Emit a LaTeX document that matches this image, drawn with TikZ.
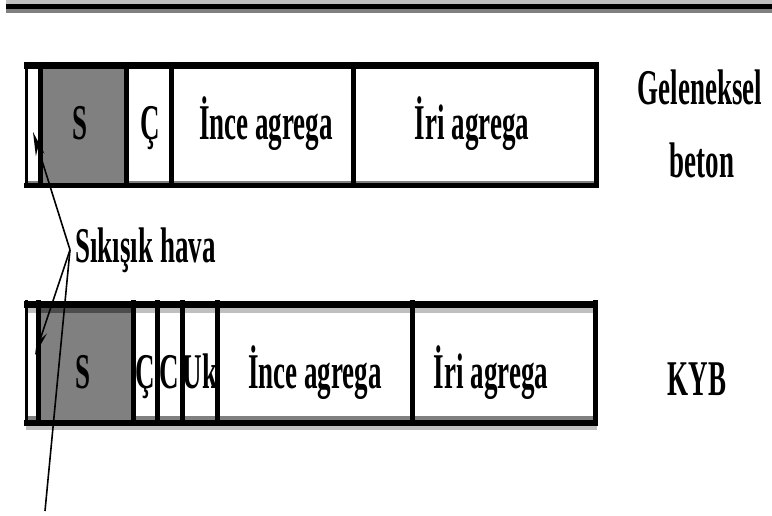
\documentclass[tikz,border=0pt]{standalone}
\usepackage{fontspec}
\newfontfamily\tf[FakeStretch=0.54]{Liberation Serif Bold}
\usetikzlibrary{arrows.meta}
\begin{document}
\begin{tikzpicture}[x=1pt,y=-1pt,
  txt/.style={font=\tf\fontsize{50}{60}\selectfont, inner sep=0pt, anchor=base},
  rule/.style={line width=5pt},
  ptr/.style={line width=1.6pt, -{Stealth[length=24pt,width=9pt]}},
  wire/.style={line width=1.6pt},
]
\useasboundingbox (0,0) rectangle (772,516);
\fill[white] (0,0) rectangle (772,516);
% header band
\fill[gray!50] (6,0) rectangle (772,4);
\fill[black] (6,4) rectangle (772,9);
\fill[gray] (6,9) rectangle (772,13);

% ---- top bar (Geleneksel beton)
\fill[gray] (40,66) rectangle (127,183);
\fill[gray] (26,181) rectangle (597,184);
\draw[line width=7pt] (24,66) -- (598,66);
\draw[rule] (24,186) -- (598,186);
\draw[line width=3pt] (26,62) -- (26,188);
\draw[rule] (596,62) -- (596,188);
\foreach \x in {40,126.5,171,353} \draw[rule] (\x,62) -- (\x,188);

\node[txt] (s1) at (80,140) {S};
\node[txt] (c1) at (150,140) {Ç};
\node[txt] (f1) at (266,140) {İnce agrega};
\node[txt] (r1) at (472,140) {İri agrega};
\node[txt] (g1) at (700,105) {Geleneksel};
\node[txt] (g2) at (702,178) {beton};

% ---- bottom bar (KYB)
\fill[gray!50] (26,307) rectangle (595,313);
\fill[gray] (26,416) rectangle (595,420);
\fill[gray!50] (26,426) rectangle (597,430);
\fill[gray] (40,307) rectangle (132,420);
\fill[gray!60!black] (40,307) rectangle (132,313);
\draw[line width=7pt] (24,304) -- (597,304);
\draw[line width=6pt] (24,423) -- (597,423);
\draw[line width=3pt] (26,300) -- (26,426);
\draw[rule] (595,300) -- (595,426);
\foreach \x in {38,133,157,182,217,412} \draw[rule] (\x,300) -- (\x,426);

\node[txt] (s2) at (83,388) {S};
\node[txt] (c2) at (145,388) {Ç};
\node[txt] (c3) at (169,388) {C};
\node[txt] (u2) at (200,388) {Uk};
\node[txt] (f2) at (315,388) {İnce agrega};
\node[txt] (r2) at (491,388) {İri agrega};
\node[txt] (k2) at (697,395) {KYB};

% ---- compressed air label and pointers
\node[txt, anchor=base west] (lbl) at (75,262) {Sıkışık hava};
\coordinate (v) at ([xshift=-5pt]lbl.west);
\coordinate (p1) at (33,132);
\coordinate (p2) at (35,355);
\coordinate (p3) at (45,511);
\draw[ptr] (v) -- (p1);
\draw[ptr] (v) -- (p2);
\draw[wire] (v) -- (p3);
\end{tikzpicture}
\end{document}
